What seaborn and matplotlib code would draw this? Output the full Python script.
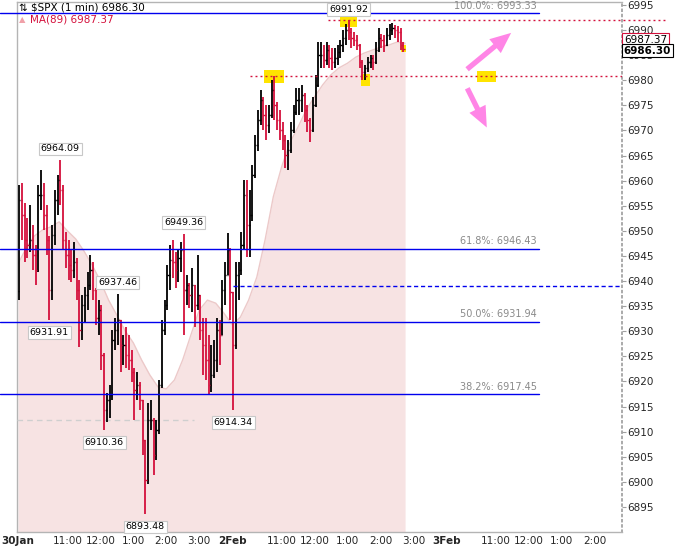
import numpy as np
import pandas as pd
import matplotlib
matplotlib.use("Agg")
import matplotlib.pyplot as plt
import seaborn as sns
from matplotlib.patches import Rectangle, FancyArrowPatch

# 5-minute bars: 30 Jan (78 bars) then 2 Feb (63 bars)
jan30_high = [6959.1, 6959.5, 6955.5, 6952.6, 6955.2, 6951.2, 6947.2, 6959.1, 6962.1, 6959.5,
              6955.2, 6949.0, 6951.2, 6958.1, 6961.1, 6964.1, 6959.1, 6949.8, 6948.2, 6946.2,
              6947.8, 6944.6, 6940.2, 6937.2, 6938.8, 6941.8, 6945.2, 6943.8, 6938.6, 6936.2,
              6935.2, 6925.6, 6917.7, 6919.3, 6930.3, 6932.7, 6937.5, 6932.3, 6929.3, 6930.9,
              6929.3, 6926.3, 6922.7, 6921.9, 6919.9, 6916.3, 6908.3, 6915.7, 6916.3, 6912.7,
              6912.3, 6920.3, 6932.3, 6936.2, 6943.2, 6947.2, 6948.2, 6945.8, 6946.2, 6947.8,
              6949.4, 6941.2, 6939.6, 6942.6, 6939.2, 6945.2, 6937.2, 6932.7, 6932.7, 6929.3,
              6927.3, 6928.3, 6932.7, 6932.3, 6940.2, 6943.8, 6949.6, 6946.6]
jan30_low = [6936.2, 6948.2, 6943.8, 6944.6, 6945.8, 6942.2, 6939.2, 6941.8, 6954.2, 6950.2,
             6945.2, 6932.2, 6936.2, 6947.2, 6953.2, 6955.2, 6946.2, 6942.6, 6940.2, 6939.8,
             6940.6, 6936.2, 6926.9, 6928.3, 6931.9, 6934.2, 6938.2, 6936.2, 6931.3, 6929.3,
             6922.3, 6910.4, 6911.9, 6912.7, 6916.3, 6926.3, 6927.3, 6921.9, 6923.3, 6922.7,
             6922.3, 6919.9, 6912.3, 6916.3, 6914.3, 6905.4, 6893.5, 6899.6, 6910.3, 6901.4,
             6904.4, 6909.6, 6918.7, 6929.3, 6934.2, 6938.2, 6940.6, 6938.6, 6939.8, 6941.8,
             6929.3, 6935.2, 6934.6, 6933.8, 6930.9, 6934.2, 6928.3, 6921.3, 6920.3, 6917.3,
             6917.9, 6920.7, 6921.9, 6923.3, 6929.3, 6935.2, 6941.2, 6932.3]
jan30_close = [6956.2, 6953.2, 6948.2, 6947.2, 6948.2, 6945.2, 6942.2, 6957.2, 6957.2, 6953.2,
               6948.2, 6938.2, 6949.2, 6956.2, 6960.1, 6958.1, 6948.2, 6945.2, 6943.2, 6942.2,
               6943.8, 6938.2, 6930.3, 6935.2, 6937.2, 6939.2, 6942.2, 6938.2, 6932.7, 6934.2,
               6925.3, 6914.3, 6916.3, 6917.3, 6928.3, 6930.3, 6932.3, 6927.3, 6927.3, 6925.3,
               6924.3, 6921.9, 6918.3, 6919.3, 6916.3, 6908.3, 6900.4, 6912.3, 6912.3, 6905.4,
               6910.3, 6919.3, 6930.3, 6935.2, 6941.2, 6944.2, 6943.8, 6942.2, 6944.6, 6946.2,
               6938.2, 6939.2, 6937.2, 6939.2, 6935.2, 6937.2, 6930.3, 6927.3, 6924.3, 6919.3,
               6921.3, 6924.3, 6930.3, 6929.3, 6938.2, 6941.2, 6946.2, 6937.8]

feb2_high = [6937.8, 6943.8, 6943.8, 6949.8, 6960.1, 6960.1, 6958.1, 6963.1, 6969.1, 6974.1,
             6978.1, 6976.7, 6975.1, 6975.1, 6980.1, 6980.8, 6975.6, 6974.1, 6971.7, 6969.1,
             6968.1, 6971.7, 6975.1, 6978.5, 6978.5, 6979.1, 6977.5, 6975.1, 6972.5, 6976.7,
             6981.1, 6987.6, 6987.6, 6987.0, 6987.6, 6987.0, 6986.4, 6986.4, 6987.0, 6988.0,
             6990.0, 6991.2, 6991.92, 6990.4, 6989.6, 6989.0, 6987.2, 6984.0, 6983.0, 6984.6,
             6985.0, 6985.0, 6987.6, 6990.4, 6989.2, 6989.0, 6990.4, 6991.2, 6991.4, 6991.0,
             6990.8, 6990.4, 6987.6]
feb2_low = [6914.34, 6926.5, 6936.2, 6941.2, 6946.2, 6944.8, 6944.8, 6952.0, 6960.5, 6966.0,
            6971.1, 6970.1, 6968.1, 6969.5, 6972.5, 6972.1, 6970.1, 6968.1, 6966.1, 6962.5,
            6962.1, 6965.5, 6969.5, 6973.0, 6973.1, 6973.7, 6971.7, 6969.7, 6967.7, 6969.6,
            6974.6, 6978.6, 6982.5, 6982.5, 6983.0, 6982.5, 6982.1, 6982.5, 6983.0, 6984.4,
            6985.6, 6987.0, 6988.0, 6986.4, 6986.8, 6986.0, 6982.5, 6980.1, 6980.1, 6981.7,
            6982.5, 6982.1, 6983.2, 6985.6, 6986.4, 6985.6, 6986.8, 6988.0, 6989.0, 6988.4,
            6987.6, 6986.0, 6985.6]
feb2_close = [6927.3, 6941.2, 6942.2, 6947.2, 6957.2, 6951.2, 6953.2, 6961.1, 6967.1, 6972.1,
              6976.1, 6973.1, 6971.1, 6973.1, 6978.1, 6975.1, 6972.1, 6970.1, 6968.1, 6965.1,
              6966.1, 6970.1, 6973.7, 6976.1, 6976.1, 6977.1, 6974.1, 6972.1, 6970.1, 6975.1,
              6979.1, 6985.0, 6985.0, 6984.0, 6986.0, 6984.4, 6983.6, 6984.4, 6985.6, 6987.0,
              6988.4, 6990.0, 6989.6, 6988.4, 6988.0, 6987.0, 6983.6, 6981.7, 6982.5, 6983.6,
              6984.4, 6983.6, 6986.0, 6988.4, 6988.0, 6987.0, 6989.0, 6990.0, 6990.4, 6990.0,
              6989.6, 6987.0, 6986.30]
first_open = 6938.0

# MA(89) read every 15 minutes
ma89 = [6943.4, 6946.6, 6949.0, 6950.2, 6950.8, 6951.8, 6950.0, 6948.4, 6946.0, 6943.2,
        6940.0, 6936.2, 6933.2, 6930.1, 6927.7, 6924.3, 6921.3, 6918.9, 6918.5, 6920.3,
        6924.3, 6929.3, 6934.2, 6936.2, 6935.6, 6933.6, 6931.3, 6932.8, 6936.2, 6940.8,
        6948.2, 6956.8, 6962.7, 6967.5, 6970.7, 6974.1, 6976.7, 6979.1, 6981.1, 6982.5,
        6983.4, 6984.6, 6985.4, 6986.0, 6986.6, 6987.0, 6987.6, 6987.4]

fib_pct = ["100.0%", "61.8%", "50.0%", "38.2%"]
fib_price = [6993.33, 6946.43, 6931.94, 6917.45]

extreme_bar = [15, 11, 36, 31, 60, 46, 78, 120]
extreme_text = ["6964.09", "6931.91", "6937.46", "6910.36", "6949.36", "6893.48", "6914.34", "6991.92"]
extreme_side = ["high", "low", "high", "low", "high", "low", "low", "high"]

tick_minutes = [0, 90, 150, 210, 270, 330, 390, 480, 540, 600, 660, 720, 780, 870, 930, 990, 1050]
tick_labels = ["30Jan", "11:00", "12:00", "1:00", "2:00", "3:00", "2Feb", "11:00", "12:00", "1:00",
               "2:00", "3:00", "3Feb", "11:00", "12:00", "1:00", "2:00"]

RED = "#d4103c"
BLUE = "#0000ee"
PINK_FILL = "#f7e3e3"
PINK_LINE = "#ecc9c9"
YELLOW = "#ffe400"
ARROW = "#ff85e6"

sns.set_theme(style="white")
plt.rcParams['font.family'] = ['DejaVu Sans']

df = pd.DataFrame({
    "high": jan30_high + feb2_high,
    "low": jan30_low + feb2_low,
    "close": jan30_close + feb2_close,
})
df["open"] = df["close"].shift(1).fillna(first_open)
df["minute"] = np.arange(len(df)) * 5 + 2
df["color"] = np.where(df["close"] >= df["open"], "black", RED)

ma_df = pd.DataFrame({"minute": np.arange(len(ma89)) * 15, "ma": ma89})

fig = plt.figure(figsize=(6.86, 5.48), dpi=100)
ax = fig.add_axes([17 / 686, 16 / 548, 605 / 686, 530 / 548])
ymin, ymax = 6890.0, 6995.6
ax.set_xlim(-1.8, 1100)
ax.set_ylim(ymin, ymax)

# MA(89) shaded area
ax.fill_between(ma_df["minute"], ma_df["ma"], ymin, color=PINK_FILL, lw=0, zorder=1)
sns.lineplot(data=ma_df, x="minute", y="ma", ax=ax, color=PINK_LINE, lw=1.0, zorder=2)

# highlight boxes
def highlight(minute, price, w_px, h_px):
    w = w_px / 0.549
    h = h_px / 5.02
    ax.add_patch(Rectangle((minute - w / 2, price - h / 2), w, h, color=YELLOW, lw=0, zorder=3))

highlight(df.minute[93], df.high[93], 20, 13)
highlight(df.minute[120], df.high[120], 17, 13)
highlight(df.minute[126], df.low[126], 9, 12)
highlight(df.minute[140], df.close[140], 5, 7)
highlight(853, df.high[93], 19, 11)

# OHLC bars
ax.vlines(df["minute"], df["low"], df["high"], colors=df["color"], lw=1.3, zorder=4)
ax.hlines(df["open"], df["minute"] - 2.2, df["minute"], colors=df["color"], lw=1.0, zorder=4)
ax.hlines(df["close"], df["minute"], df["minute"] + 2.2, colors=df["color"], lw=1.0, zorder=4)

# fibonacci levels
x_left = -32.8
for pct, price in zip(fib_pct, fib_price):
    ax.plot([x_left, 949], [price, price], color=BLUE, lw=1.0, zorder=5, clip_on=False)
    ax.text(945, price + 0.5, f"{pct}: {price:.2f}", color="#8a8a8a", fontsize=7,
            ha="right", va="bottom", zorder=6)

ax.plot([392, 1100], [6938.96, 6938.96], color=BLUE, lw=1.0, ls=(0, (3, 2)), zorder=5)
ax.plot([-1.8, 320], [6912.33, 6912.33], color="#cfcfcf", lw=1.0, ls=(0, (4, 3)), zorder=3)
ax.plot([565, 1184], [6991.92, 6991.92], color=RED, lw=1.0, ls=(0, (1.4, 2.2)), zorder=5, clip_on=False)
ax.plot([423, 1100], [df.high[93], df.high[93]], color=RED, lw=1.0, ls=(0, (1.4, 2.2)), zorder=5)

# labels for swing highs and lows
for b, txt, side in zip(extreme_bar, extreme_text, extreme_side):
    if side == "high":
        y, off = df.high[b], 8
    else:
        y, off = df.low[b], -9
    ax.annotate(txt, (df.minute[b], y), xytext=(0, off), textcoords="offset points",
                ha="center", va="center", fontsize=6.8, color="black", zorder=7,
                bbox=dict(boxstyle="square,pad=0.2", fc="white", ec="#c8c8c8", lw=0.8))

# pink arrows
for (x0, y0), (x1, y1) in [((814, 6981.85), (902, 6989.8)), ((816, 6978.9), (856, 6970.1))]:
    ax.add_patch(FancyArrowPatch((x0, y0), (x1, y1), mutation_scale=10,
                                 arrowstyle="simple,head_length=1.5,head_width=1.3,tail_width=0.38",
                                 color=ARROW, lw=0, zorder=6))

# axes styling
ax.yaxis.tick_right()
ax.set_yticks(np.arange(6895, 6996, 5))
ax.tick_params(axis="y", labelsize=7.5, length=3, width=0.8, color="#a0a0a0", pad=1, right=True, left=False)
ax.set_xticks(tick_minutes)
ax.set_xticklabels(tick_labels)
for lab, txt in zip(ax.get_xticklabels(), tick_labels):
    lab.set_fontweight("bold" if txt[0].isdigit() and txt[-1].isalpha() else "normal")
ax.tick_params(axis="x", labelsize=7.5, length=0, pad=3)
ax.set_xlabel("")
ax.set_ylabel("")
for side in ["left", "top", "bottom"]:
    ax.spines[side].set_color("#b4b4b4")
    ax.spines[side].set_linewidth(1.0)
ax.spines["right"].set_color("#a0a0a0")
ax.spines["right"].set_linestyle((0, (1, 2)))
ax.grid(False)

# last price tags
ytr = ax.get_yaxis_transform()
ax.text(1.003, 6988.1, "6987.37", transform=ytr, fontsize=7.5, color="black", ha="left", va="center",
        zorder=8, clip_on=False,
        bbox=dict(boxstyle="square,pad=0.15", fc="white", ec=RED, lw=0.8))
ax.text(1.003, 6985.9, "6986.30", transform=ytr, fontsize=7.5, color="black", fontweight="bold",
        ha="left", va="center", zorder=9, clip_on=False,
        bbox=dict(boxstyle="square,pad=0.15", fc="white", ec="black", lw=0.8))

# header texts
fig.text(19 / 686, 1 - 8 / 548, "\u21c5 $SPX (1 min) 6986.30", fontsize=7.5, color="black", va="center")
fig.text(19 / 686, 1 - 20 / 548, "\u25b2", fontsize=6, color="#f0a0a8", va="center")
fig.text(30 / 686, 1 - 20 / 548, "MA(89) 6987.37", fontsize=7.5, color=RED, va="center")

fig.savefig("out.png", dpi=100)
